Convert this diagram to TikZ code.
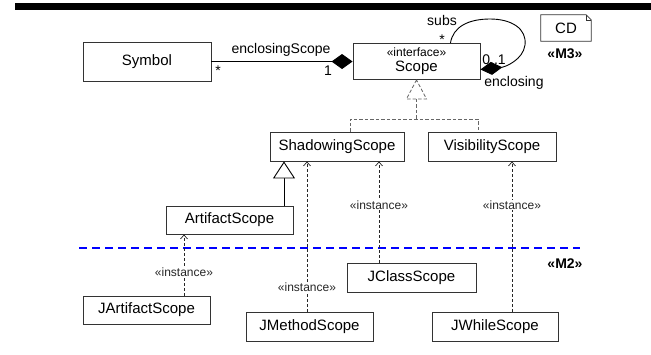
\documentclass[tikz,border=0pt]{standalone}
\usepackage{fontspec}
\setmainfont{Liberation Sans}
\usetikzlibrary{arrows.meta}
\usetikzlibrary{positioning}

\tikzset{
  cls/.style={rectangle, draw=black!80, line width=0.9pt, fill=white, minimum width=127pt, minimum height=29pt, inner sep=0pt, font=\fontsize{15}{17}\selectfont},
  lbl/.style={inner sep=1pt, font=\fontsize{14}{16}\selectfont},
  stereo/.style={inner sep=1pt, fill=white, font=\fontsize{12}{14}\selectfont},
  inst/.style={black!85, line width=0.7pt, dash pattern=on 3pt off 2pt, -{Straight Barb[length=4pt,width=7pt]}},
  realize/.style={black!60, line width=0.8pt, dash pattern=on 3.5pt off 2pt},
  gen/.style={black, line width=0.9pt, -{Triangle[fill=white, length=17pt, width=22pt]}},
  comp/.style={black, line width=0.9pt},
}

\begin{document}
\begin{tikzpicture}[x=1pt, y=-1pt]

\useasboundingbox (0,0) rectangle (651,354);
%\draw[step=50, gray, very thin, dotted] (0,0) grid (651,354);

\fill[black] (15,3) rectangle (651,10);

% M3 part
\node at (147,61.5) [cls, minimum width=128pt, minimum height=39pt] (symbol) {Symbol};
\node at (416.5,61.5) [cls, minimum height=36pt, align=center] (scope) {{\fontsize{12}{14}\selectfont «interface»}\\[-2pt]Scope};
\node at (337,146.5) [cls, minimum width=134pt] (shadowing) {ShadowingScope};
\node at (492,146.5) [cls, minimum width=128pt] (visibility) {VisibilityScope};
\node at (229.5,220) [cls, minimum height=28pt] (artifact) {ArtifactScope};

\node at (566,28) [inner sep=0pt, minimum width=50pt, minimum height=26pt, font=\fontsize{15}{17}\selectfont] (cd) {CD};
\draw[black!80, line width=0.8pt] (cd.south west) -- (cd.north west) -- ([xshift=-5pt]cd.north east) -- ([yshift=-5pt]cd.north east) -- (cd.south east) -- cycle;
\draw[black!80, line width=0.5pt] ([xshift=-5pt]cd.north east) -- ([xshift=-5pt, yshift=-5pt]cd.north east) -- ([yshift=-5pt]cd.north east);
\node at (565,54) [lbl, font=\fontsize{14}{16}\selectfont\bfseries] (m3) {«M3»};

% M2 part
\draw[blue, line width=1.5pt, dash pattern=on 8pt off 5pt] (79,248) -- (580,248);
\node at (565,264) [lbl, font=\fontsize{14}{16}\selectfont\bfseries] (m2) {«M2»};

\node at (146.5,310) [cls, minimum height=28pt] (jartifact) {JArtifactScope};
\node at (309.5,326.5) [cls] (jmethod) {JMethodScope};
\node at (411.5,277.5) [cls, minimum width=129pt] (jclass) {JClassScope};
\node at (495,326.5) [cls, minimum width=126pt] (jwhile) {JWhileScope};

% associations
\draw[comp, -{Diamond[length=21pt,width=15pt]}] (symbol.east) -- (scope.west);
\node at (281,50) [lbl] (enclscope) {enclosingScope};
\node at (218,71) [lbl] (symmult) {*};
\node at (328,71) [lbl] (scopemult) {1};

\coordinate (loopstart) at ([xshift=-30pt]scope.north east);
\coordinate (loopend) at ([yshift=-8pt]scope.east);
\draw[comp, -{Diamond[length=22pt,width=13pt]}] (loopstart) .. controls (453,27) and (468,19) .. (490,19) .. controls (512,19) and (527,29) .. (525,45) .. controls (523,60) and (505,67) .. (loopend);
\node at (442,20) [lbl] (subs) {subs};
\node at (442,40) [lbl, inner sep=0pt] (subsmult) {*};
\node at (494,60) [lbl] (enclmult) {0..1};
\node at (514,83) [lbl] (enclosing) {enclosing};

% realization
\coordinate (tri) at ([yshift=-19pt]scope.south);
\coordinate (split) at ([yshift=-39pt]scope.south);
\draw[realize, fill=white] (scope.south) -- ([xshift=-10pt]tri) -- ([xshift=10pt]tri) -- cycle;
\draw[realize] (tri) -- (split);
\draw[realize] ([xshift=13pt]shadowing.north) |- (split) -| ([xshift=-14pt]visibility.north);

% generalization
\coordinate (g) at ([xshift=54.5pt]artifact.north);
\draw[gen] (g) -- (g |- shadowing.south);

% instances
\coordinate (ja) at ([xshift=37.5pt]jartifact.north);
\coordinate (jm) at ([xshift=-2.5pt]jmethod.north);
\coordinate (jc) at ([xshift=-32.5pt]jclass.north);
\coordinate (jw) at ([xshift=17pt]jwhile.north);
\draw[inst] (ja) -- (ja |- artifact.south) node[pos=0.39, stereo] {«instance»};
\draw[inst] (jm) -- (jm |- shadowing.south) node[pos=0.16, stereo] {«instance»};
\draw[inst] (jc) -- (jc |- shadowing.south) node[pos=0.57, stereo] {«instance»};
\draw[inst] (jw) -- (jw |- visibility.south) node[pos=0.71, stereo] {«instance»};

\end{tikzpicture}
\end{document}
